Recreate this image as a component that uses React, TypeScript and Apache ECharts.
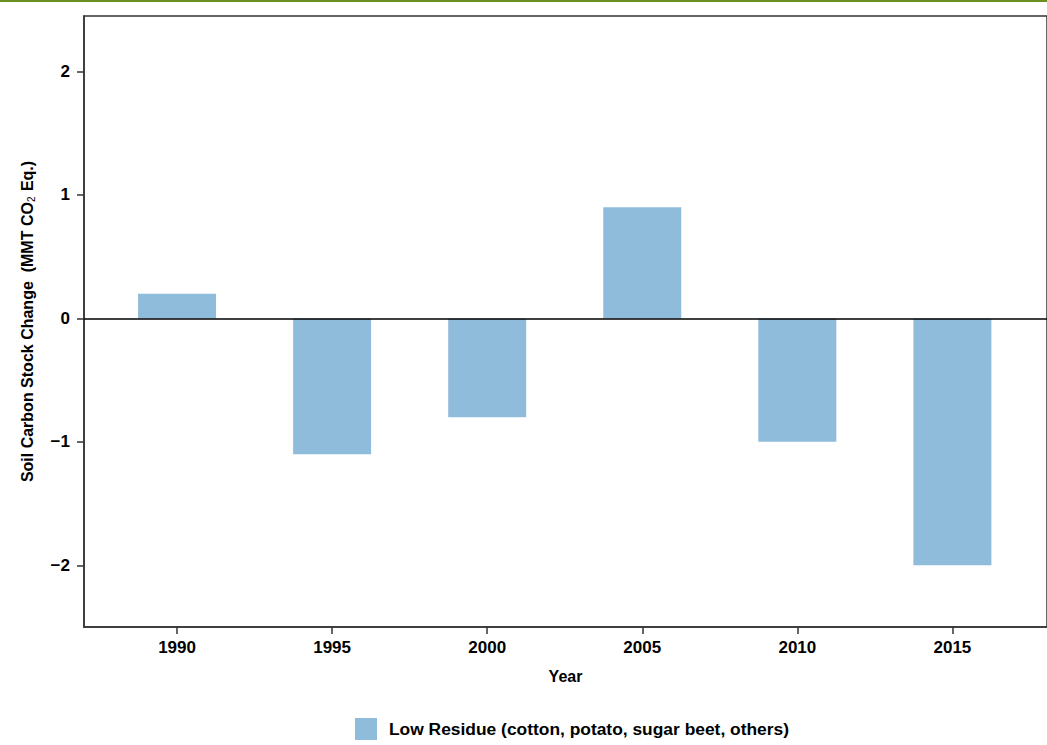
import React, { useEffect, useRef } from "react";
import * as echarts from "echarts";

const years = [1990, 1995, 2000, 2005, 2010, 2015];
const values = [0.2, -1.1, -0.8, 0.9, -1.0, -2.0];
const yTicks = [-2, -1, 0, 1, 2];
const seriesName = "Low Residue (cotton, potato, sugar beet, others)";

export default function App() {
  const ref = useRef<HTMLDivElement>(null);
  useEffect(() => {
    if (!ref.current) return;
    const chart = echarts.init(ref.current, null, { renderer: "svg" });
    const font = "Liberation Sans, Arial, sans-serif";
    chart.setOption({
      animation: false,
      textStyle: { fontFamily: font },
      graphic: [
        { type: "rect", shape: { x: 0, y: 0, width: 1047, height: 2 }, style: { fill: "#6b8e23" } },
      ],
      grid: { left: 84, top: 16, right: -2, bottom: 118, show: true, borderColor: "#333", borderWidth: 1.5, backgroundColor: "transparent" },
      legend: {
        left: 350,
        top: 713,
        itemWidth: 22,
        itemHeight: 22,
        icon: "rect",
        textStyle: { fontFamily: font, fontSize: 17.4, fontWeight: "bold", color: "#000", padding: [0, 0, 0, 7] },
        data: [seriesName],
      },
      xAxis: {
        type: "value",
        min: 1987,
        max: 2018.05,
        name: "Year",
        nameLocation: "middle",
        nameGap: 41,
        nameTextStyle: { fontFamily: font, fontSize: 16, fontWeight: "bold", color: "#000" },
        splitLine: { show: false },
        axisLine: { show: true, onZero: false, lineStyle: { color: "#333", width: 1.5 } },
        axisTick: { show: true, length: 7, customValues: years, lineStyle: { color: "#333", width: 1.5 } },
        axisLabel: { customValues: years, fontFamily: font, fontSize: 17, fontWeight: "bold", color: "#000", margin: 12, formatter: (v: number) => String(v) },
      },
      yAxis: {
        type: "value",
        min: -2.5,
        max: 2.45,
        name: "Soil Carbon Stock Change  (MMT CO{sub|2} Eq.)",
        nameLocation: "middle",
        nameRotate: 90,
        nameGap: 48,
        nameTextStyle: {
          fontFamily: font,
          fontSize: 16,
          fontWeight: "bold",
          color: "#000",
          rich: { sub: { fontFamily: font, fontSize: 10, fontWeight: "normal", color: "#000", verticalAlign: "bottom", padding: [8, 1, 0, 0] } },
        },
        splitLine: { show: false },
        axisLine: { show: true, onZero: false, lineStyle: { color: "#333", width: 1.5 } },
        axisTick: { show: true, length: 7, customValues: yTicks, lineStyle: { color: "#333", width: 1.5 } },
        axisLabel: {
          customValues: yTicks,
          fontFamily: font,
          fontSize: 17,
          fontWeight: "bold",
          color: "#000",
          margin: 14,
          formatter: (v: number) => (v < 0 ? "\u2212" + Math.abs(v) : String(v)),
        },
      },
      series: [
        {
          name: seriesName,
          type: "bar",
          barWidth: 78,
          itemStyle: { color: "#8fbcdb" },
          data: years.map((y, i) => [y, values[i]]),
          markLine: {
            silent: true,
            symbol: "none",
            label: { show: false },
            lineStyle: { color: "#000", width: 1.5, type: "solid" },
            data: [{ yAxis: 0 }],
          },
        },
      ],
    });
    return () => chart.dispose();
  }, []);
  return <div ref={ref} style={{ position: "absolute", left: 0, top: 0, width: 1047, height: 745 }} />;
}
